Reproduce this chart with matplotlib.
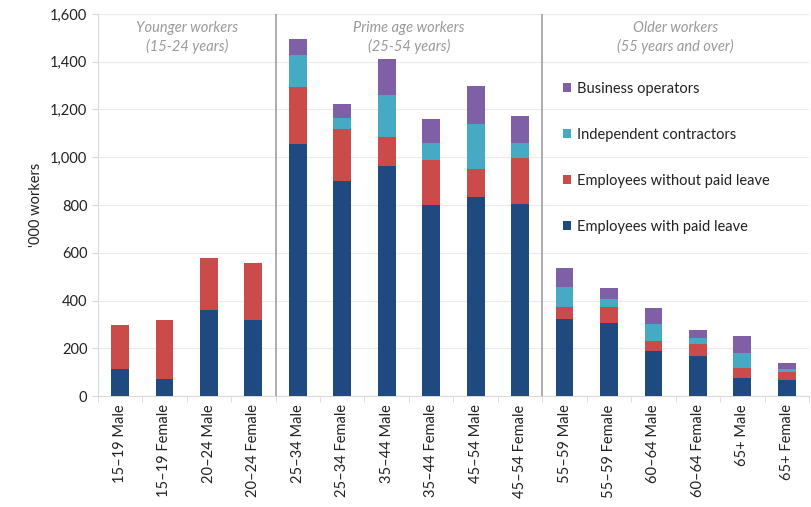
import matplotlib
matplotlib.use("Agg")
import matplotlib.pyplot as plt
import numpy as np
from matplotlib.ticker import FuncFormatter, MultipleLocator
from matplotlib.patches import Patch

plt.rcParams['font.family'] = ['Lato', 'DejaVu Sans']

categories = ["15–19 Male", "15–19 Female", "20–24 Male", "20–24 Female",
              "25–34 Male", "25–34 Female", "35–44 Male", "35–44 Female",
              "45–54 Male", "45–54 Female", "55–59 Male", "55–59 Female",
              "60–64 Male", "60–64 Female", "65+ Male", "65+ Female"]

paid_leave = [113, 70, 359, 317, 1057, 899, 963, 800, 832, 805, 321, 304, 190, 166, 77, 67]
no_paid_leave = [184, 248, 218, 239, 236, 218, 120, 190, 120, 192, 53, 67, 39, 53, 42, 32]
independent = [0, 0, 0, 0, 135, 46, 179, 68, 187, 61, 81, 34, 73, 25, 62, 15]
business = [0, 0, 0, 0, 67, 58, 148, 102, 160, 115, 80, 49, 68, 34, 69, 24]

series_names = ["Employees with paid leave", "Employees without paid leave",
                "Independent contractors", "Business operators"]
colors = ["#1F4A80", "#CB4B4B", "#46AAC5", "#7F5FA5"]

group_labels = ["Younger workers\n(15-24 years)",
                "Prime age workers\n(25-54 years)",
                "Older workers\n(55 years and over)"]
group_sizes = [4, 6, 6]

fig = plt.figure(figsize=(8.11, 5.07), dpi=100)
ax = fig.add_axes([0.1206, 0.2189, 0.8769, 0.7535])

x = np.arange(len(categories))
bottom = np.zeros(len(categories))
for vals, c in zip([paid_leave, no_paid_leave, independent, business], colors):
    v = np.array(vals, dtype=float)
    ax.bar(x, v, bottom=bottom, width=0.4, color=c, zorder=3)
    bottom += v

ax.set_xlim(-0.5, len(categories) - 0.5)
ax.set_ylim(0, 1600)
ax.yaxis.set_major_locator(MultipleLocator(200))
ax.yaxis.set_major_formatter(FuncFormatter(lambda v, p: f"{int(v):,}"))
ax.grid(axis='y', color='#EBEBEB', linewidth=0.8, zorder=0)

for s in ['top', 'right']:
    ax.spines[s].set_visible(False)
ax.spines['left'].set_color('#D9D9D9')
ax.spines['bottom'].set_color('#D9D9D9')

ax.set_xticks(x)
ax.set_xticklabels(categories, rotation=90, fontsize=10.5, color='#222222')
ax.set_xticks(np.arange(-0.5, len(categories), 1), minor=True)
ax.tick_params(axis='x', which='major', length=0, pad=6)
ax.tick_params(axis='x', which='minor', length=4, color='#D9D9D9')
ax.tick_params(axis='y', length=4, color='#D9D9D9', labelsize=10.5, labelcolor='#222222')

ax.set_ylabel("'000 workers", fontsize=10.5, color='#222222', labelpad=5)

# group dividers and labels
start = 0
for i, (lab, n) in enumerate(zip(group_labels, group_sizes)):
    center = start + (n - 1) / 2
    ax.text(center, 1570, lab, ha='center', va='top', fontsize=10.5,
            style='italic', color='#9A9A9A', linespacing=1.3)
    if i < len(group_sizes) - 1:
        ax.axvline(start + n - 0.5, color='#A6A6A6', linewidth=1.3, zorder=4)
    start += n

handles = [Patch(facecolor=c, label=n) for n, c in zip(series_names, colors)]
leg = ax.legend(handles[::-1], series_names[::-1], loc='upper left',
                bbox_to_anchor=(0.635, 0.857), frameon=False, fontsize=10.5,
                handlelength=0.6, handleheight=0.6, handletextpad=0.4,
                labelspacing=2.2)
for t in leg.get_texts():
    t.set_color('#222222')

fig.savefig("out.png", dpi=100)
